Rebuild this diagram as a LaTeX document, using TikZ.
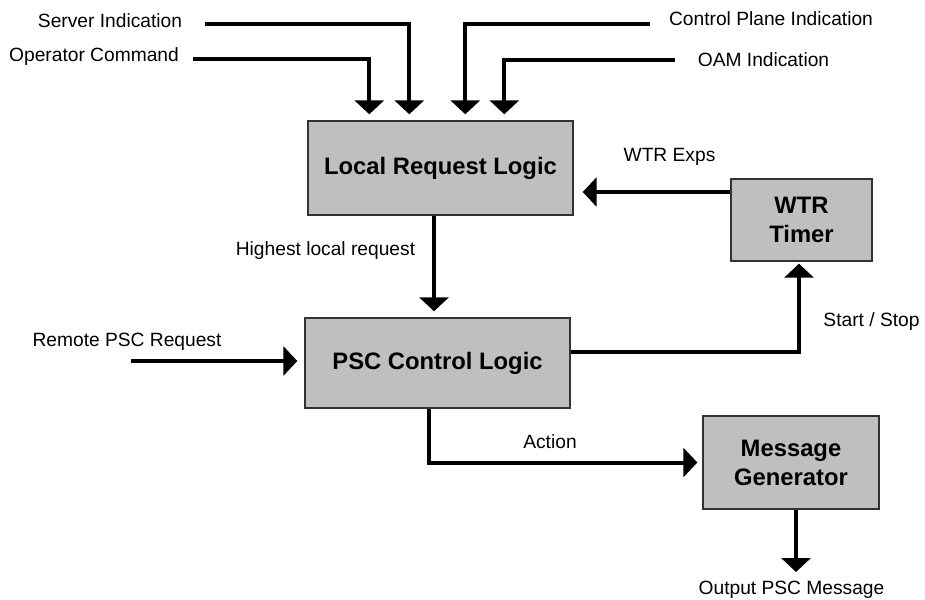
\documentclass[tikz,border=0pt]{standalone}
\usepackage{fontspec}
\setmainfont{Liberation Sans}
\usetikzlibrary{arrows.meta}
\begin{document}
\begin{tikzpicture}[x=1pt,y=-1pt,
  block/.style={draw=black!80, line width=1.4pt, fill=black!25, inner sep=0pt,
    align=center, font=\fontsize{23.8}{29}\selectfont\bfseries},
  flow/.style={line width=4pt, -{Triangle[width=29pt,length=14pt]}},
  lbl/.style={inner sep=0pt, anchor=base, font=\fontsize{19.2}{23}\selectfont}]
\useasboundingbox (0,0) rectangle (925,599);

% processing blocks
\node[block, minimum width=265pt, minimum height=94pt] (lrl) at (440.5,168) {Local Request Logic};
\node[block, minimum width=265pt, minimum height=90pt] (psc) at (437.5,363) {PSC Control Logic};
\node[block, minimum width=141pt, minimum height=82pt] (wtr) at (801.5,220) {WTR\\Timer};
\node[block, minimum width=176pt, minimum height=93pt] (msg) at (791,462.5) {Message\\Generator};

% free ends of the input and output signals
\coordinate (srv) at (205,24);
\coordinate (opc) at (193,59);
\coordinate (cpi) at (650,24);
\coordinate (oam) at (675,60);
\coordinate (rem) at (131,361);
\coordinate (out) at (796,572);

% inputs to the local request logic
\draw[flow, shorten >=6pt] (srv) -| ([xshift=102pt]lrl.north west);
\draw[flow, shorten >=6pt] (opc) -| ([xshift=62pt]lrl.north west);
\draw[flow, shorten >=6pt] (cpi) -| ([xshift=158pt]lrl.north west);
\draw[flow, shorten >=6pt] (oam) -| ([xshift=197pt]lrl.north west);

% internal signals
\draw[flow, shorten >=9pt] ([yshift=28pt]wtr.west) -- ([yshift=28pt]wtr.west -| lrl.east);
\draw[flow, shorten >=6pt] ([xshift=-6.5pt]lrl.south) -- ([xshift=-6.5pt]lrl.south |- psc.north);
\draw[flow, shorten >=7pt] (rem) -- (rem -| psc.west);
\draw[flow, shorten >=2pt] ([yshift=11pt]psc.east) -| ([xshift=-2.5pt]wtr.south);
\draw[flow, shorten >=5pt] ([xshift=-8.5pt]psc.south) |- (msg.west);
\draw[flow] ([xshift=5pt]msg.south) -- (out);

% signal labels
\node[lbl] (l-srv) at (110,28) {Server Indication};
\node[lbl] (l-opc) at (94,62) {Operator Command};
\node[lbl] (l-cpi) at (771,26) {Control Plane Indication};
\node[lbl] (l-oam) at (763.5,67) {OAM Indication};
\node[lbl] (l-wtr) at (669.5,161) {WTR Exps};
\node[lbl] (l-hlr) at (325.5,255) {Highest local request};
\node[lbl] (l-rem) at (127,346) {Remote PSC Request};
\node[lbl] (l-ss)  at (871.5,326) {Start / Stop};
\node[lbl] (l-act) at (550,448) {Action};
\node[lbl] (l-out) at (791.5,594) {Output PSC Message};
\end{tikzpicture}
\end{document}
